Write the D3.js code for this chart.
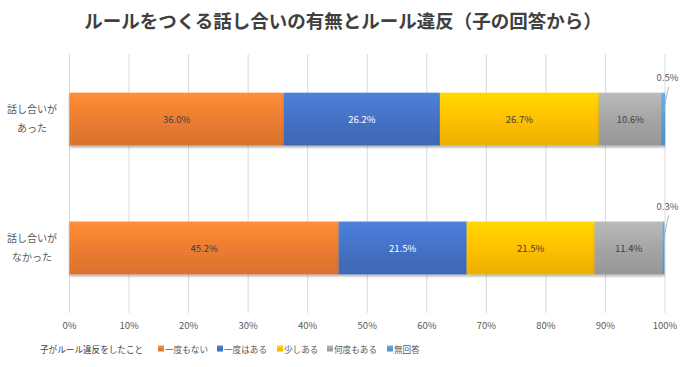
<!DOCTYPE html>
<html>
<head>
<meta charset="utf-8">
<script src="https://cdn.jsdelivr.net/npm/d3@7"></script>
<style>
  body { margin: 0; background: #fff; }
  svg { font-family: "Noto Sans CJK JP", "Noto Sans", sans-serif; }
</style>
</head>
<body>
<svg id="chart" width="690" height="367"></svg>
<script>
const title = 'ルールをつくる話し合いの有無とルール違反（子の回答から）';
const categories = [['話し合いが', 'あった'], ['話し合いが', 'なかった']];
const seriesNames = ['一度もない', '一度はある', '少しある', '何度もある', '無回答'];
const neverValues = [36.0, 45.2];
const onceValues = [26.2, 21.5];
const fewValues = [26.7, 21.5];
const oftenValues = [10.6, 11.4];
const noAnswerValues = [0.5, 0.3];
const tickValues = [0, 10, 20, 30, 40, 50, 60, 70, 80, 90, 100];
const legendTitle = '子がルール違反をしたこと';

const colors = ['#ed7d31', '#4472c4', '#ffc000', '#a5a5a5', '#5b9bd5'];
const textColors = ['#404040', '#ffffff', '#404040', '#404040', '#404040'];

const rows = categories.map((c, i) => ({
  key: i,
  s0: neverValues[i], s1: onceValues[i], s2: fewValues[i], s3: oftenValues[i], s4: noAnswerValues[i]
}));
const keys = ['s0', 's1', 's2', 's3', 's4'];
const stacked = d3.stack().keys(keys)(rows);

const svg = d3.select('#chart');
const x = d3.scaleLinear().domain([0, 100]).range([69.5, 665]);
const y = d3.scaleBand().domain([0, 1]).range([54, 313]).paddingInner(0.59).paddingOuter(0.3);

const defs = svg.append('defs');
colors.forEach((c, i) => {
  const g = defs.append('linearGradient').attr('id', `grad${i}`)
    .attr('x1', 0).attr('y1', 0).attr('x2', 0).attr('y2', 1);
  g.append('stop').attr('offset', '0%').attr('stop-color', d3.color(c).brighter(0.35));
  g.append('stop').attr('offset', '50%').attr('stop-color', c);
  g.append('stop').attr('offset', '100%').attr('stop-color', d3.color(c).darker(0.25));
});
const filter = defs.append('filter').attr('id', 'shadow')
  .attr('x', '-5%').attr('y', '-20%').attr('width', '110%').attr('height', '150%');
filter.append('feDropShadow').attr('dx', 0).attr('dy', 2).attr('stdDeviation', 1.2)
  .attr('flood-color', '#000').attr('flood-opacity', 0.3);

svg.append('text')
  .attr('x', 343).attr('y', 28)
  .attr('text-anchor', 'middle')
  .style('font-size', '18.5px').style('font-weight', 'bold').style('fill', '#404040')
  .text(title);

// gridlines
svg.append('g').selectAll('line')
  .data(tickValues)
  .enter()
  .append('line')
  .attr('x1', d => x(d)).attr('x2', d => x(d))
  .attr('y1', 54).attr('y2', 313)
  .attr('stroke', '#d9d9d9').attr('stroke-width', 1);

// tick labels
svg.append('g').selectAll('text')
  .data(tickValues)
  .enter()
  .append('text')
  .attr('x', d => x(d)).attr('y', 329)
  .attr('text-anchor', 'middle')
  .style('font-size', '9.5px').style('fill', '#595959')
  .text(d => `${d}%`);

// category labels
categories.forEach((lines, i) => {
  const cy = y(i) + y.bandwidth() / 2;
  lines.forEach((t, j) => {
    svg.append('text')
      .attr('x', 32).attr('y', cy - 6 + j * 19)
      .attr('text-anchor', 'middle')
      .style('font-size', '10px').style('fill', '#595959')
      .text(t);
  });
});

// bars
const groups = svg.append('g').selectAll('g')
  .data(stacked)
  .enter()
  .append('g')
  .attr('fill', (d, i) => `url(#grad${i})`);

groups.selectAll('rect')
  .data(d => d)
  .enter()
  .append('rect')
  .attr('x', d => x(d[0]))
  .attr('y', (d, i) => y(i))
  .attr('width', d => x(d[1]) - x(d[0]))
  .attr('height', y.bandwidth())
  .attr('filter', 'url(#shadow)');

// value labels
stacked.forEach((s, si) => {
  s.forEach((d, i) => {
    const v = d[1] - d[0];
    const cy = y(i) + y.bandwidth() / 2;
    if (si < 4) {
      svg.append('text')
        .attr('x', (x(d[0]) + x(d[1])) / 2).attr('y', cy + 4)
        .attr('text-anchor', 'middle')
        .style('font-size', '9.5px').style('fill', textColors[si])
        .text(`${v.toFixed(1)}%`);
    } else {
      const bx = (x(d[0]) + x(d[1])) / 2;
      svg.append('line')
        .attr('x1', bx).attr('y1', y(i) + 19)
        .attr('x2', bx + 5).attr('y2', y(i) - 6)
        .attr('stroke', '#a6a6a6').attr('stroke-width', 0.8);
      svg.append('text')
        .attr('x', bx + 4).attr('y', y(i) - 12)
        .attr('text-anchor', 'middle')
        .style('font-size', '9.5px').style('fill', '#595959')
        .text(`${v.toFixed(1)}%`);
    }
  });
});

// legend
svg.append('text')
  .attr('x', 40).attr('y', 353)
  .style('font-size', '8.6px').style('fill', '#404040')
  .text(legendTitle);

const legendX = [158, 217, 277, 327, 387];
const legend = svg.append('g').selectAll('g')
  .data(seriesNames)
  .enter()
  .append('g')
  .attr('transform', (d, i) => `translate(${legendX[i]},349)`);
legend.append('rect')
  .attr('x', 0).attr('y', -3.5).attr('width', 6).attr('height', 6)
  .attr('fill', (d, i) => `url(#grad${i})`);
legend.append('text')
  .attr('x', 7).attr('y', 3.5)
  .style('font-size', '8.6px').style('fill', '#595959')
  .text(d => d);
</script>
</body>
</html>
